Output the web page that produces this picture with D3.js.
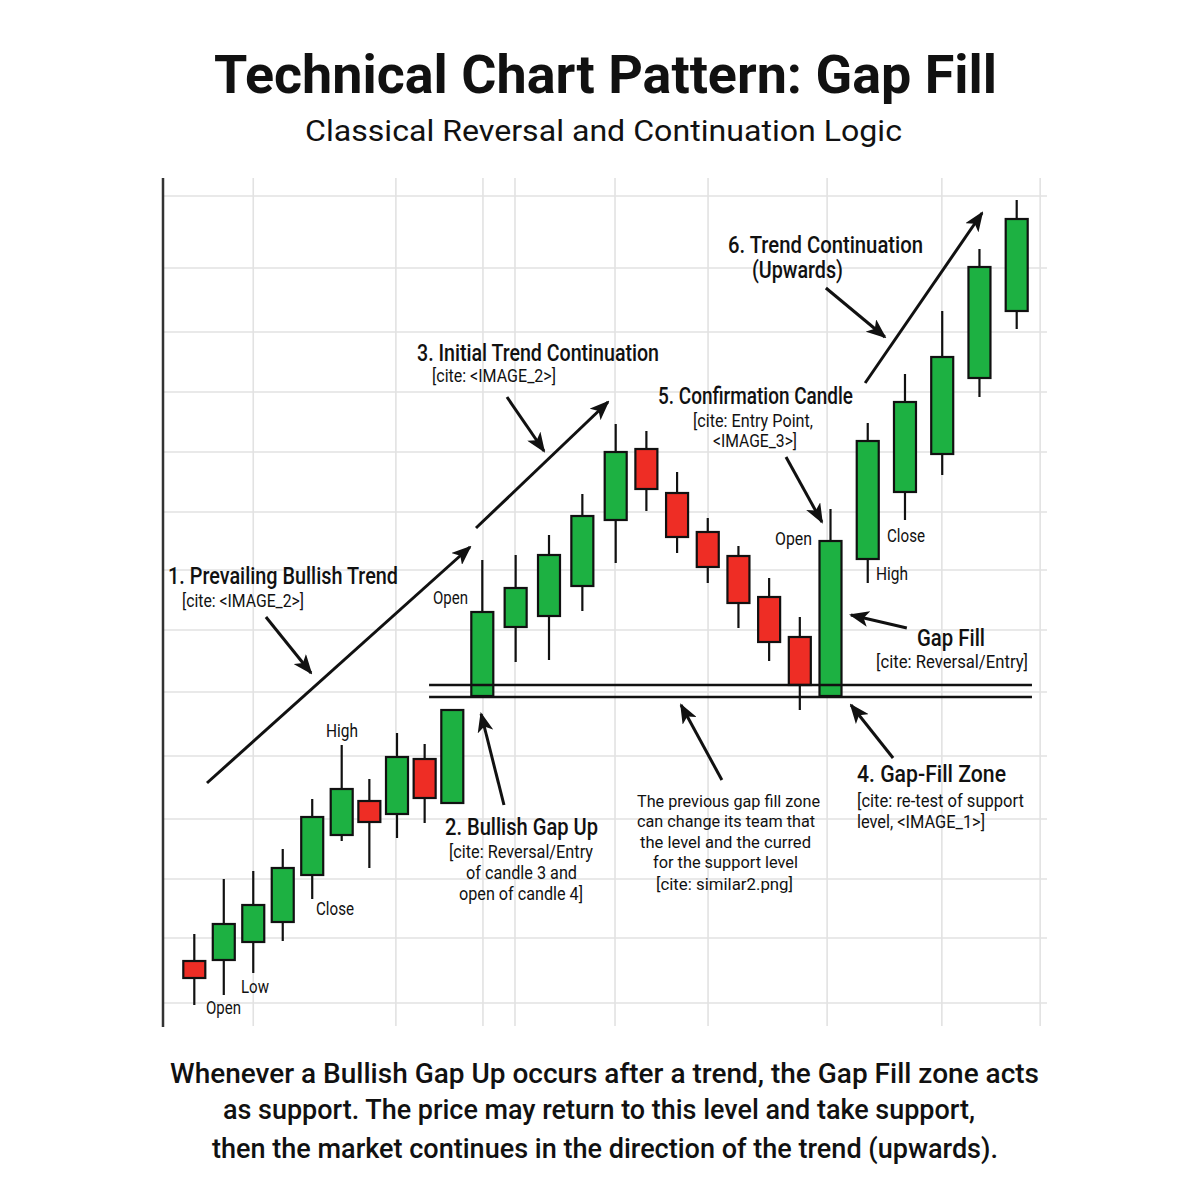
<!DOCTYPE html>
<html><head><meta charset="utf-8">
<script src="https://cdn.jsdelivr.net/npm/d3@7"></script>
<style>body{margin:0;background:#fff}</style>
</head><body><svg id="c" width="1200" height="1200"></svg>
<script>
// ---------- DATA ----------
const candleIds = d3.range(1, 28).map(i => "C" + i);
const opens  = [104.9,105.0,106.8,108.8,113.5,117.5,120.9,119.6,125.1,120.7,131.4,138.3,139.4,142.4,149.0,156.1,151.7,147.8,145.4,141.3,137.3,131.4,145.1,151.8,155.6,163.2,169.9];
const highs  = [107.6,113.1,113.9,116.1,121.1,126.5,123.1,127.7,126.6,130.0,145.0,145.5,147.5,151.6,158.6,157.9,153.8,149.2,146.4,143.2,139.3,150.1,158.7,163.6,169.9,176.1,181.0];
const lows   = [100.5,101.5,103.7,106.9,111.1,116.9,114.2,117.2,118.7,120.7,131.4,134.8,135.0,139.9,144.7,149.9,145.7,142.7,138.2,134.9,130.0,131.4,142.7,149.0,153.5,161.3,168.1];
const closes = [103.2,108.6,110.5,114.2,119.3,122.1,118.8,125.3,121.2,130.0,139.8,142.2,145.5,149.4,155.8,152.1,147.3,144.3,140.7,136.8,132.5,146.9,156.9,160.8,165.3,174.3,179.1];

const gapLevels = [132.5, 131.3];
const gapSpan = [8.16, 26.41];

const gridPrices = [181.4,174.2,167.8,161.8,155.8,149.8,144.0,138.0,131.8,125.4,119.1,113.1,107.2,100.7];
const gridIdx = [2, 6.96, 10.02, 10.98, 13.98, 17.01, 20.89, 23.99, 26.63];

// arrows in data space: [index, price] -> [index, price]
const arrowFrom = [[0.43,122.7],[2.43,139.3],[9.79,148.2],[10.74,161.3],[19.55,155.3],[21.93,162.7],[20.85,172.2],[23.05,138.2],[22.68,125.2],[17.46,123.0],[10.65,120.5]];
const arrowTo   = [[9.59,146.3],[3.96,133.7],[13.77,160.8],[11.85,155.9],[20.72,148.8],[25.07,179.7],[22.46,167.3],[21.55,139.5],[21.55,130.5],[16.13,130.5],[9.96,129.6]];

const titleText = "Technical Chart Pattern: Gap Fill";
const subtitleText = "Classical Reversal and Continuation Logic";
const footerLines = [
  "Whenever a Bullish Gap Up occurs after a trend, the Gap Fill zone acts",
  "as support. The price may return to this level and take support,",
  "then the market continues in the direction of the trend (upwards)."
];
const labelTexts = [
  "1. Prevailing Bullish Trend","[cite: <IMAGE_2>]","Open",
  "3. Initial Trend Continuation","[cite: <IMAGE_2>]",
  "5. Confirmation Candle","[cite: Entry Point,","<IMAGE_3>]",
  "Open","Close","High","Gap Fill","[cite: Reversal/Entry]",
  "6. Trend Continuation","(Upwards)",
  "High","Close","Low","Open",
  "2. Bullish Gap Up","[cite: Reversal/Entry","of candle 3 and","open of candle 4]",
  "The previous gap fill zone","can change its team that","the level and the curred","for the support level","[cite: similar2.png]",
  "4. Gap-Fill Zone","[cite: re-test of support","level, <IMAGE_1>]"
];

// ---------- LAYOUT ----------
// [x, baseline, width, fontSize, weight]
const labelLayout = [
  [168,584,230,23,500],[182,607,122,18,400],[433,604,35,18,400],
  [417,361,242,23,500],[432,382,124,18,400],
  [658,404,195,23,500],[693,427,120,18,400],[713,447,84,18,400],
  [775,545,37,18,400],[887,542,38,18,400],[876,580,32,18,400],[917,646,68,24,500],[876,668,152,18,400],
  [728,253,195,23,500],[752,278,91,23,500],
  [326,737,32,18,400],[316,915,38,18,400],[241,993,28,18,400],[206,1014,35,18,400],
  [445,835,153,23,500],[449,858,144,18,400],[466,879,111,18,400],[459,900,124,18,400],
  [637,807,183,17,400],[637,827,178,17,400],[640,848,171,17,400],[653,868,145,17,400],[656,890,137,17,400],
  [857,782,149,23,500],[857,807,167,18,400],[857,828,128,18,400]
];
const plot = {left:163, right:1047, top:178, bottom:1026};
const GREEN = "#1db142", RED = "#ee2d25";
const FONT = "Roboto, 'Liberation Sans', sans-serif";

const svg = d3.select("#c");
const x = d3.scaleLinear().domain([0,5,9,10,14,21,26]).range([194.3,341.7,452.3,482.3,615.7,830.5,1016.7]);
const y = d3.scaleLinear().domain([100,182]).range([1010,190]);

const candles = candleIds.map((id,i)=>({id,i,o:opens[i],h:highs[i],l:lows[i],c:closes[i]}));

// grid
const g = svg.append("g");
g.selectAll("line.h").data(gridPrices).join("line")
  .attr("x1",plot.left).attr("x2",plot.right)
  .attr("y1",d=>y(d)).attr("y2",d=>y(d))
  .attr("stroke","#e2e2e2").attr("stroke-width",1.6);
g.selectAll("line.v").data(gridIdx).join("line")
  .attr("x1",d=>x(d)).attr("x2",d=>x(d))
  .attr("y1",plot.top).attr("y2",plot.bottom)
  .attr("stroke","#e2e2e2").attr("stroke-width",1.6);
svg.append("line").attr("x1",plot.left).attr("x2",plot.left)
  .attr("y1",plot.top).attr("y2",plot.bottom+1)
  .attr("stroke","#333").attr("stroke-width",2.5);

// candles
const bw = 22;
const cg = svg.append("g").selectAll("g").data(candles).join("g");
cg.append("line").attr("x1",d=>x(d.i)).attr("x2",d=>x(d.i))
  .attr("y1",d=>y(d.h)).attr("y2",d=>y(d.l))
  .attr("stroke","#111").attr("stroke-width",2.2);
cg.append("rect").attr("x",d=>x(d.i)-bw/2).attr("width",bw)
  .attr("y",d=>y(Math.max(d.o,d.c)))
  .attr("height",d=>Math.max(1,y(Math.min(d.o,d.c))-y(Math.max(d.o,d.c))))
  .attr("fill",d=>d.c>=d.o?GREEN:RED)
  .attr("stroke","#111").attr("stroke-width",2.2);

// gap zone lines
svg.append("g").selectAll("line").data(gapLevels).join("line")
  .attr("x1",x(gapSpan[0])).attr("x2",x(gapSpan[1]))
  .attr("y1",d=>y(d)).attr("y2",d=>y(d))
  .attr("stroke","#111").attr("stroke-width",2.4);

// arrows
const defs = svg.append("defs");
defs.append("marker").attr("id","ah").attr("markerUnits","userSpaceOnUse")
  .attr("viewBox","0 0 20 16").attr("refX",18).attr("refY",8)
  .attr("markerWidth",20).attr("markerHeight",16).attr("orient","auto")
  .append("path").attr("d","M0,0 L20,8 L0,16 L5,8 Z").attr("fill","#111");
svg.append("g").selectAll("line").data(arrowFrom.map((f,k)=>[f,arrowTo[k]])).join("line")
  .attr("x1",d=>x(d[0][0])).attr("y1",d=>y(d[0][1]))
  .attr("x2",d=>x(d[1][0])).attr("y2",d=>y(d[1][1]))
  .attr("stroke","#111").attr("stroke-width",3).attr("marker-end","url(#ah)");

// labels
svg.append("g").selectAll("text").data(labelTexts.map((t,k)=>({t,L:labelLayout[k]}))).join("text")
  .attr("x",d=>d.L[0]).attr("y",d=>d.L[1])
  .attr("textLength",d=>d.L[2]).attr("lengthAdjust","spacingAndGlyphs")
  .attr("font-size",d=>d.L[3]).attr("font-weight",d=>d.L[4])
  .attr("font-family",FONT).attr("fill","#111").text(d=>d.t);

// title / subtitle / footer
svg.append("text").attr("x",214).attr("y",93).attr("textLength",783).attr("lengthAdjust","spacingAndGlyphs")
  .attr("font-size",54).attr("font-weight",700).attr("font-family",FONT).attr("fill","#111").text(titleText);
svg.append("text").attr("x",305).attr("y",141).attr("textLength",597).attr("lengthAdjust","spacingAndGlyphs")
  .attr("font-size",29).attr("font-weight",400).attr("font-family",FONT).attr("fill","#111").text(subtitleText);
const footLayout = [[170,1083,869],[223,1119,752],[212,1158,786]];
svg.append("g").selectAll("text").data(footerLines).join("text")
  .attr("x",(d,k)=>footLayout[k][0]).attr("y",(d,k)=>footLayout[k][1])
  .attr("textLength",(d,k)=>footLayout[k][2]).attr("lengthAdjust","spacingAndGlyphs")
  .attr("font-size",28).attr("font-weight",500).attr("font-family",FONT).attr("fill","#111").text(d=>d);
</script></body></html>
